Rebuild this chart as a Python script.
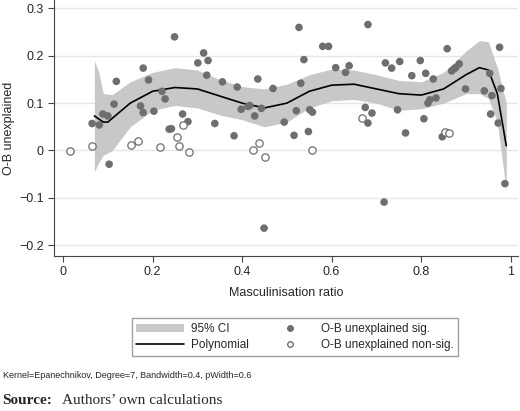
import numpy as np, pandas as pd, seaborn as sns, matplotlib
matplotlib.use("Agg")
import matplotlib.pyplot as plt
from matplotlib.patches import Patch
from matplotlib.lines import Line2D

sig_x = [.065,.081,.089,.100,.103,.114,.119,.173,.179,.179,.191,.203,.221,.228,.237,.242,.249,.267,.279,.301,.314,.321,.324,.339,.356,.382,.389,.398,.413,.417,.428,.435,.443,.449,.469,.494,
         .527,.538,.531,.521,.516,.548,.551,.557,.580,.593,.609,.631,.639,.675,.681,.681,.690,.717,.720,.734,.747,.752,.765,.779,.798,.806,.810,.815,.819,.827,.833,.847,.858,.868,.873,.877,.885,.899,.941,.953,.955,.958,.972,.975,.978,.987]
sig_y = [.057,.054,.077,.073,-.029,.098,.146,.094,.174,.080,.149,.083,.125,.109,.045,.046,.240,.077,.061,.185,.206,.159,.190,.057,.145,.031,.134,.087,.093,.095,.073,.151,.089,-.164,.131,.060,
         .260,.192,.142,.084,.032,.040,.086,.081,.220,.220,.175,.165,.179,.091,.266,.058,.079,-.109,.185,.174,.086,.188,.037,.158,.190,.067,.163,.100,.107,.151,.111,.029,.215,.168,.172,.175,.183,.130,.126,.163,.077,.116,.058,.218,.131,-.070]
ns_x = [.016,.064,.152,.168,.217,.255,.260,.267,.281,.424,.438,.451,.557,.667,.854,.862]
ns_y = [-.001,.010,.011,.020,.008,.028,.009,.054,-.004,0,.015,-.013,.001,.068,.038,.037]
fit_x = [.07,.09,.10,.15,.2,.25,.3,.35,.4,.45,.5,.55,.6,.65,.7,.75,.8,.85,.9,.93,.95,.97,.99]
fit_y = [.073,.06,.06,.1,.125,.133,.13,.115,.1,.09,.1,.125,.138,.14,.13,.12,.117,.13,.16,.175,.17,.12,.01]
ci_x = [.07,.08,.09,.11,.15,.2,.25,.3,.35,.4,.45,.5,.55,.6,.65,.7,.75,.8,.85,.9,.93,.95,.97,.99]
ci_hi = [.19,.165,.12,.118,.145,.165,.175,.17,.15,.135,.13,.14,.16,.172,.17,.16,.148,.145,.165,.21,.232,.23,.175,.10]
ci_lo = [-.045,-.025,-.01,.0,.05,.085,.095,.09,.075,.065,.05,.06,.09,.105,.108,.10,.085,.088,.10,.12,.12,.11,.06,-.085]

sns.set_style("white")
plt.rcParams['font.family'] = ['Liberation Sans', 'DejaVu Sans']
fig = plt.figure(figsize=(5.2, 4.11), dpi=100)
ax = fig.add_axes([0.104, 0.377, 0.892, 0.622])
ax.fill_between(ci_x, ci_lo, ci_hi, color='#c8c8c8', lw=0, zorder=1)
sns.lineplot(x=fit_x, y=fit_y, ax=ax, color='black', lw=1.2, zorder=3)
sns.scatterplot(x=sig_x, y=sig_y, ax=ax, color='#6e6e6e', s=30, edgecolor='none', zorder=4)
sns.scatterplot(x=ns_x, y=ns_y, ax=ax, facecolor='white', edgecolor='#6e6e6e', s=28, linewidth=0.9, zorder=4)
ax.set_xlim(-0.02, 1.016)
ax.set_ylim(-0.223, 0.317)
ax.set_xticks([0, .2, .4, .6, .8, 1])
ax.set_xticklabels(['0', '0.2', '0.4', '0.6', '0.8', '1'])
ax.set_yticks([-.2, -.1, 0, .1, .2, .3])
ax.set_yticklabels(['\u22120.2', '\u22120.1', '0', '0.1', '0.2', '0.3'])
ax.yaxis.grid(True, color='#e6e6e6', lw=1)
for s in ['top', 'right']:
    ax.spines[s].set_visible(False)
for s in ['left', 'bottom']:
    ax.spines[s].set_color('#444444')
ax.tick_params(axis='both', direction='out', length=4, labelsize=9, color='#444444', left=True, bottom=True)
ax.set_xlabel('Masculinisation ratio', fontsize=9, labelpad=6)
ax.set_ylabel('O-B unexplained', fontsize=9, labelpad=3)

handles = [Patch(facecolor='#c8c8c8', edgecolor='none', label='95% CI'),
           Line2D([], [], color='black', lw=1.2, label='Polynomial'),
           Line2D([], [], marker='o', ls='', color='#6e6e6e', markersize=4, label='O-B unexplained sig.'),
           Line2D([], [], marker='o', ls='', markerfacecolor='white', markeredgecolor='#6e6e6e', markersize=4, label='O-B unexplained non-sig.')]
fig.legend(handles=handles, ncol=2, loc='upper left', bbox_to_anchor=(0.242, 0.24), fontsize=8.5,
           frameon=True, fancybox=False, edgecolor='#888888', handlelength=4, handletextpad=0.6,
           columnspacing=1.5, borderpad=0.4, labelspacing=0.35)
fig.text(0.005, 0.08, 'Kernel=Epanechnikov, Degree=7, Bandwidth=0.4, pWidth=0.6', fontsize=6.5)
fig.text(0.005, 0.018, 'Source:', fontsize=11, fontweight='bold', family='Liberation Serif')
fig.text(0.12, 0.018, 'Authors\u2019 own calculations', fontsize=11, family='Liberation Serif')
fig.savefig('out.png', dpi=100)
